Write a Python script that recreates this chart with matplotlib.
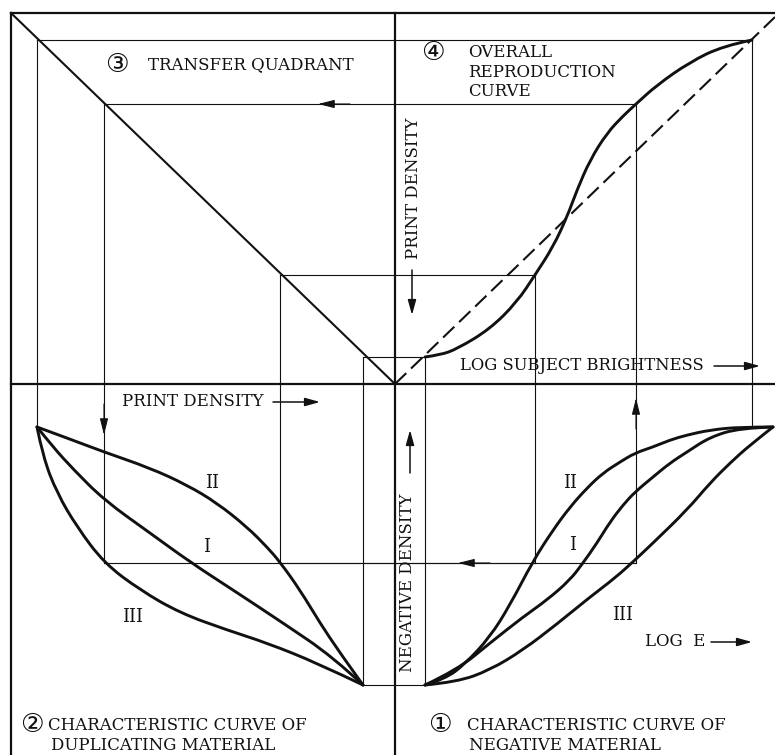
import matplotlib.pyplot as plt
from matplotlib.path import Path
from matplotlib.patches import PathPatch

# four tones followed round the diagram (diagram units, origin at the centre)
log_brightness = [0.30, 1.40, 2.41, 3.57]
print_density = [0.27, 1.09, 2.80, 3.44]
transfer_x = [-0.32, -1.15, -2.91, -3.58]
neg_density = [-3.01, -1.79, -1.79, -0.43]

# quadrant 4: overall reproduction curve and the ideal 45 degree line
overall_x = [0.30, 0.45, 0.62, 0.95, 1.22, 1.40, 1.58, 1.72, 1.82, 1.95, 2.12, 2.28, 2.41, 2.62, 2.95, 3.28, 3.57]
overall_y = [0.27, 0.29, 0.35, 0.55, 0.82, 1.09, 1.37, 1.67, 1.94, 2.24, 2.51, 2.68, 2.80, 2.99, 3.22, 3.38, 3.44]
ideal_x = [0.0, 3.80]
ideal_y = [0.0, 3.67]

# quadrant 1: characteristic curves of the negative material (log E, density)
neg_II_x = [0.30, 0.50, 0.70, 0.95, 1.15, 1.38, 1.58, 1.75, 1.92, 2.08, 2.25, 2.40, 2.58, 2.75, 2.92, 3.15, 3.45, 3.78]
neg_II_y = [-3.01, -2.95, -2.80, -2.53, -2.21, -1.77, -1.46, -1.23, -1.04, -0.89, -0.78, -0.69, -0.63, -0.56, -0.51, -0.46, -0.43, -0.43]
neg_I_x = [0.30, 0.62, 0.95, 1.28, 1.52, 1.75, 1.88, 2.02, 2.15, 2.28, 2.40, 2.58, 2.75, 2.92, 3.15, 3.45, 3.78]
neg_I_y = [-3.01, -2.86, -2.59, -2.33, -2.16, -1.96, -1.79, -1.59, -1.38, -1.21, -1.08, -0.93, -0.79, -0.68, -0.53, -0.44, -0.43]
neg_III_x = [0.30, 0.62, 0.95, 1.28, 1.62, 1.95, 2.20, 2.40, 2.58, 2.92, 3.15, 3.35, 3.55, 3.78]
neg_III_y = [-3.01, -2.98, -2.86, -2.66, -2.40, -2.13, -1.94, -1.76, -1.59, -1.26, -0.99, -0.79, -0.61, -0.43]

# quadrant 2: characteristic curves of the duplicating material
dup_II_x = [-3.58, -3.28, -2.91, -2.45, -2.08, -1.78, -1.48, -1.28, -1.15, -0.95, -0.75, -0.55, -0.32]
dup_II_y = [-0.43, -0.54, -0.68, -0.84, -1.01, -1.19, -1.43, -1.63, -1.78, -2.06, -2.39, -2.69, -3.01]
dup_I_x = [-3.58, -3.42, -3.22, -2.91, -2.45, -2.05, -1.62, -1.12, -0.62, -0.32]
dup_I_y = [-0.43, -0.63, -0.85, -1.16, -1.49, -1.78, -2.06, -2.39, -2.73, -3.01]
dup_III_x = [-3.58, -3.52, -3.38, -3.18, -2.91, -2.55, -2.15, -1.68, -1.28, -0.78, -0.32]
dup_III_y = [-0.43, -0.73, -1.09, -1.43, -1.79, -2.06, -2.29, -2.46, -2.59, -2.79, -3.01]

ink = '#111111'
serif = 'DejaVu Serif'
circled = ['DejaVu Sans', 'Noto Sans CJK SC']


def smooth_curve(ax, xs, ys, lw=2.1):
    # quadratic bezier pieces: read points are the controls, midpoints lie on the curve
    pts = list(zip(xs, ys))
    verts = [pts[0]]
    codes = [Path.MOVETO]
    for i in range(1, len(pts) - 1):
        nxt = pts[i + 1] if i == len(pts) - 2 else ((pts[i][0] + pts[i + 1][0]) / 2, (pts[i][1] + pts[i + 1][1]) / 2)
        verts += [pts[i], nxt]
        codes += [Path.CURVE3, Path.CURVE3]
    ax.add_patch(PathPatch(Path(verts, codes), fill=False, edgecolor=ink, lw=lw,
                           joinstyle='round', capstyle='round'))


fig = plt.figure(figsize=(7.75, 7.55), dpi=100)
ax = fig.add_axes([0, 0, 1, 1])
ax.set_xlim(-3.95, 3.80)
ax.set_ylim(-3.71, 3.84)
ax.axis('off')

# frame and the two axes
left, top, right, bottom = -3.84, 3.71, 3.80, -3.71
ax.plot([left, left], [bottom, top], color=ink, lw=1.6, solid_capstyle='projecting')
ax.plot([left, right], [top, top], color=ink, lw=1.6, solid_capstyle='projecting')
ax.plot([left, right], [0, 0], color=ink, lw=1.6)
ax.plot([0, 0], [bottom, top], color=ink, lw=1.6)

# transfer diagonal and ideal reproduction line
ax.plot([left, 0], [top, 0], color=ink, lw=1.5)
ax.plot(ideal_x, ideal_y, color=ink, lw=1.5, dashes=(7.5, 3.2))

# thin construction lines
for i in range(len(log_brightness)):
    b, p, t, n = log_brightness[i], print_density[i], transfer_x[i], neg_density[i]
    ax.plot([b, b], [p, n], color=ink, lw=0.8)
    ax.plot([t, t], [n, p], color=ink, lw=0.8)
    ax.plot([t, b], [p, p], color=ink, lw=0.8)
    if i < 3:
        ax.plot([t, b], [n, n], color=ink, lw=0.8)

# curves
for xs, ys in [(overall_x, overall_y),
               (neg_II_x, neg_II_y), (neg_I_x, neg_I_y), (neg_III_x, neg_III_y),
               (dup_II_x, dup_II_y), (dup_I_x, dup_I_y), (dup_III_x, dup_III_y)]:
    smooth_curve(ax, xs, ys)

# arrowheads on the construction lines
head = dict(arrowstyle='-|>,head_length=1.0,head_width=0.25', color=ink, lw=0.8, shrinkA=0, shrinkB=0)
ax.annotate('', xy=(-0.77, 2.80), xytext=(-0.45, 2.80), arrowprops=head)
ax.annotate('', xy=(-2.91, -0.51), xytext=(-2.91, -0.20), arrowprops=head)
ax.annotate('', xy=(0.63, -1.79), xytext=(0.95, -1.79), arrowprops=head)
ax.annotate('', xy=(2.41, -0.14), xytext=(2.41, -0.45), arrowprops=head)

# arrows next to the axis labels
lab = dict(arrowstyle='-|>,head_length=0.9,head_width=0.25', color=ink, lw=1.1, shrinkA=0, shrinkB=0)
ax.annotate('', xy=(0.17, 0.69), xytext=(0.17, 1.14), arrowprops=lab)
ax.annotate('', xy=(3.65, 0.18), xytext=(3.19, 0.18), arrowprops=lab)
ax.annotate('', xy=(-0.75, -0.18), xytext=(-1.22, -0.18), arrowprops=lab)
ax.annotate('', xy=(0.15, -0.46), xytext=(0.15, -0.89), arrowprops=lab)
ax.annotate('', xy=(3.57, -2.58), xytext=(3.16, -2.58), arrowprops=lab)

fs = 12
ax.text(0.18, 1.96, 'PRINT DENSITY', rotation=90, ha='center', va='center', fontsize=fs, family=serif, color=ink)
ax.text(0.65, 0.18, 'LOG SUBJECT BRIGHTNESS', ha='left', va='center', fontsize=11.8, family=serif, color=ink)
ax.text(-2.73, -0.18, 'PRINT DENSITY', ha='left', va='center', fontsize=fs, family=serif, color=ink)
ax.text(0.13, -1.99, 'NEGATIVE DENSITY', rotation=90, ha='center', va='center', fontsize=fs, family=serif, color=ink)
ax.text(2.50, -2.58, 'LOG  E', ha='left', va='center', fontsize=fs, family=serif, color=ink)

# quadrant titles
ax.text(-2.78, 3.19, '\u2462', ha='center', va='center', fontsize=19, family=circled, color=ink)
ax.text(-2.47, 3.19, 'TRANSFER QUADRANT', ha='left', va='center', fontsize=fs, family=serif, color=ink)
ax.text(0.38, 3.31, '\u2463', ha='center', va='center', fontsize=19, family=circled, color=ink)
ax.text(0.73, 3.40, 'OVERALL\nREPRODUCTION\nCURVE', ha='left', va='top', fontsize=fs, family=serif,
        color=ink, linespacing=1.2)
ax.text(0.45, -3.41, '\u2460', ha='center', va='center', fontsize=19, family=circled, color=ink)
ax.text(0.72, -3.41, 'CHARACTERISTIC CURVE OF', ha='left', va='center', fontsize=fs, family=serif, color=ink)
ax.text(0.74, -3.61, 'NEGATIVE MATERIAL', ha='left', va='center', fontsize=fs, family=serif, color=ink)
ax.text(-3.63, -3.41, '\u2461', ha='center', va='center', fontsize=19, family=circled, color=ink)
ax.text(-3.47, -3.41, 'CHARACTERISTIC CURVE OF', ha='left', va='center', fontsize=fs, family=serif, color=ink)
ax.text(-3.44, -3.61, 'DUPLICATING MATERIAL', ha='left', va='center', fontsize=fs, family=serif, color=ink)

# curve numbers
for x, y, s in [(-1.83, -0.99, 'II'), (-1.88, -1.63, 'I'), (-2.62, -2.33, 'III'),
                (1.75, -0.99, 'II'), (1.78, -1.61, 'I'), (2.28, -2.31, 'III')]:
    ax.text(x, y, s, ha='center', va='center', fontsize=13, family=serif, color=ink)

plt.savefig('out.png', dpi=100, facecolor='white')
